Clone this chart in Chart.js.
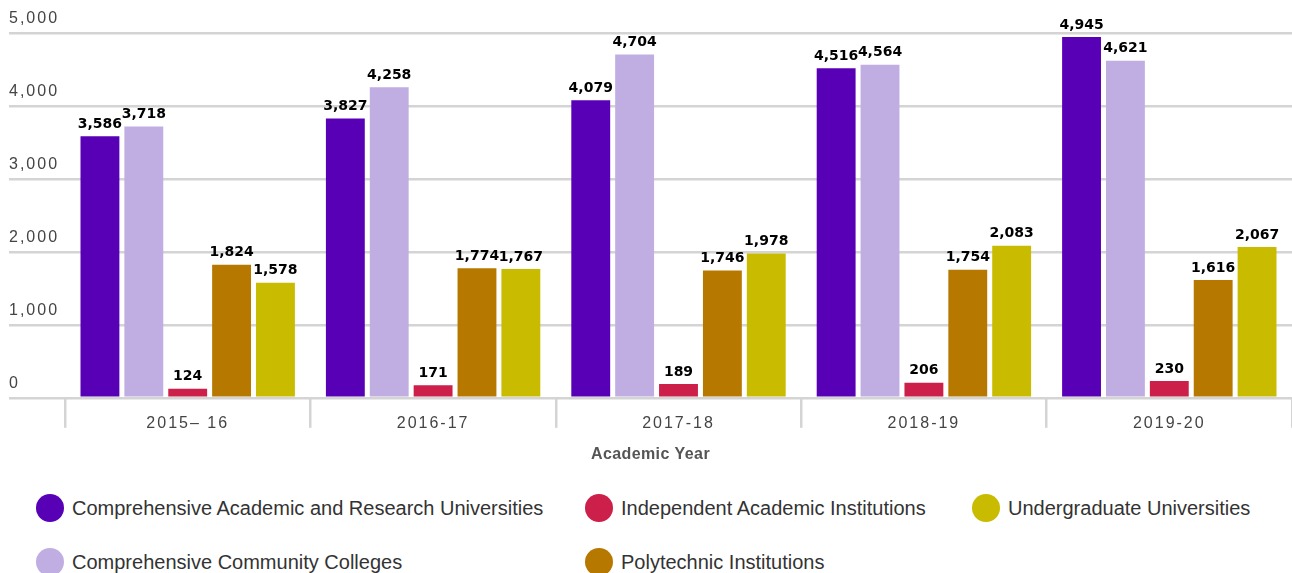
<!DOCTYPE html>
<html>
<head>
<meta charset="utf-8">
<script src="https://cdn.jsdelivr.net/npm/chart.js@4.4.0/dist/chart.umd.min.js"></script>
<style>
  body { margin: 0; background: #fff; font-family: "Liberation Sans", Arial, sans-serif; }
  #wrap { position: relative; width: 1292px; height: 475px; }
  #legend { position: absolute; top: 494px; left: 0; width: 1292px; height: 80px; }
  .item { position: absolute; display: flex; align-items: center; height: 28px; font-size: 20px; color: #333; white-space: nowrap; }
  .dot { width: 28px; height: 28px; border-radius: 50%; margin-right: 8px; flex: none; }
</style>
</head>
<body>
<div id="wrap"><canvas id="myChart"></canvas></div>
<div id="legend"></div>
<script>
var years = ['2015\u2013 16', '2016-17', '2017-18', '2018-19', '2019-20'];
var seriesNames = [
  'Comprehensive Academic and Research Universities',
  'Comprehensive Community Colleges',
  'Independent Academic Institutions',
  'Polytechnic Institutions',
  'Undergraduate Universities'
];
var seriesColors = ['#5800b5', '#c0ade2', '#cc1f49', '#b77800', '#c8bb00'];
var research = [3586, 3827, 4079, 4516, 4945];
var community = [3718, 4258, 4704, 4564, 4621];
var independent = [124, 171, 189, 206, 230];
var polytechnic = [1824, 1774, 1746, 1754, 1616];
var undergrad = [1578, 1767, 1978, 2083, 2067];
var yTicks = [0, 1000, 2000, 3000, 4000, 5000];

var values = [research, community, independent, polytechnic, undergrad];
var gridGrey = '#d4d4d4';
var sans = '"Liberation Sans", Arial, sans-serif';

// spaced-out axis text, plain text for the value labels
var spacing = {
  id: 'spacing',
  beforeDraw: function (chart) { chart.ctx.letterSpacing = '2px'; },
  beforeDatasetsDraw: function (chart) { chart.ctx.letterSpacing = '0px'; }
};

var valueLabels = {
  id: 'valueLabels',
  afterDatasetsDraw: function (chart) {
    var ctx = chart.ctx;
    ctx.save();
    ctx.letterSpacing = '0px';
    ctx.font = 'bold 14px "DejaVu Sans"';
    ctx.fillStyle = '#000';
    ctx.textAlign = 'center';
    ctx.textBaseline = 'bottom';
    chart.data.datasets.forEach(function (ds, i) {
      chart.getDatasetMeta(i).data.forEach(function (bar, j) {
        ctx.fillText(ds.data[j].toLocaleString('en-US'), bar.x, bar.y - 5);
      });
    });
    ctx.restore();
  }
};

var datasets = seriesNames.map(function (name, i) {
  return {
    label: name,
    data: values[i],
    backgroundColor: seriesColors[i],
    barPercentage: 0.886,
    categoryPercentage: 0.894
  };
});

var chart = new Chart(document.getElementById('myChart').getContext('2d'), {
  type: 'bar',
  data: { labels: years, datasets: datasets },
  options: {
    responsive: true,
    maintainAspectRatio: false,
    animation: false,
    layout: { padding: { top: 33, left: 9, right: 0, bottom: 0 } },
    plugins: {
      legend: { display: false },
      tooltip: { enabled: false },
      title: {
        display: true,
        text: 'Academic Year',
        position: 'bottom',
        weight: 500,
        color: '#555',
        font: { size: 16, weight: 'bold', family: sans },
        padding: { top: 7, bottom: 11 }
      }
    },
    scales: {
      x: {
        afterFit: function (scale) { scale.height = 40; },
        grid: { offset: true, drawOnChartArea: false, tickLength: 30, color: gridGrey, lineWidth: 2.5 },
        border: { display: false },
        ticks: { padding: -14, color: '#444', font: { size: 16, family: sans } }
      },
      y: {
        min: 0,
        max: 5000,
        afterBuildTicks: function (scale) {
          scale.ticks = yTicks.map(function (v) { return { value: v }; });
        },
        afterFit: function (scale) { scale.width = 56; },
        grid: { tickLength: 56, color: gridGrey, lineWidth: 2.5 },
        border: { display: false },
        ticks: {
          crossAlign: 'far',
          labelOffset: -14,
          padding: 0,
          color: '#444',
          font: { size: 16, family: sans }
        }
      }
    }
  },
  plugins: [spacing, valueLabels]
});

// the axis title keeps tighter spacing than the tick labels
var titleDraw = chart.titleBlock.draw;
chart.titleBlock.draw = function () {
  var ctx = chart.ctx;
  ctx.save();
  ctx.letterSpacing = '0.4px';
  titleDraw.apply(this, arguments);
  ctx.restore();
};
chart.draw();

// legend laid out in columns below the chart
var legend = document.getElementById('legend');
var colLeft = [36, 585, 972];
seriesNames.forEach(function (name, i) {
  var item = document.createElement('div');
  item.className = 'item';
  item.style.left = colLeft[Math.floor(i / 2)] + 'px';
  item.style.top = (i % 2) * 54 + 'px';
  var dot = document.createElement('span');
  dot.className = 'dot';
  dot.style.background = seriesColors[i];
  var txt = document.createElement('span');
  txt.textContent = name;
  item.appendChild(dot);
  item.appendChild(txt);
  legend.appendChild(item);
});
</script>
</body>
</html>
